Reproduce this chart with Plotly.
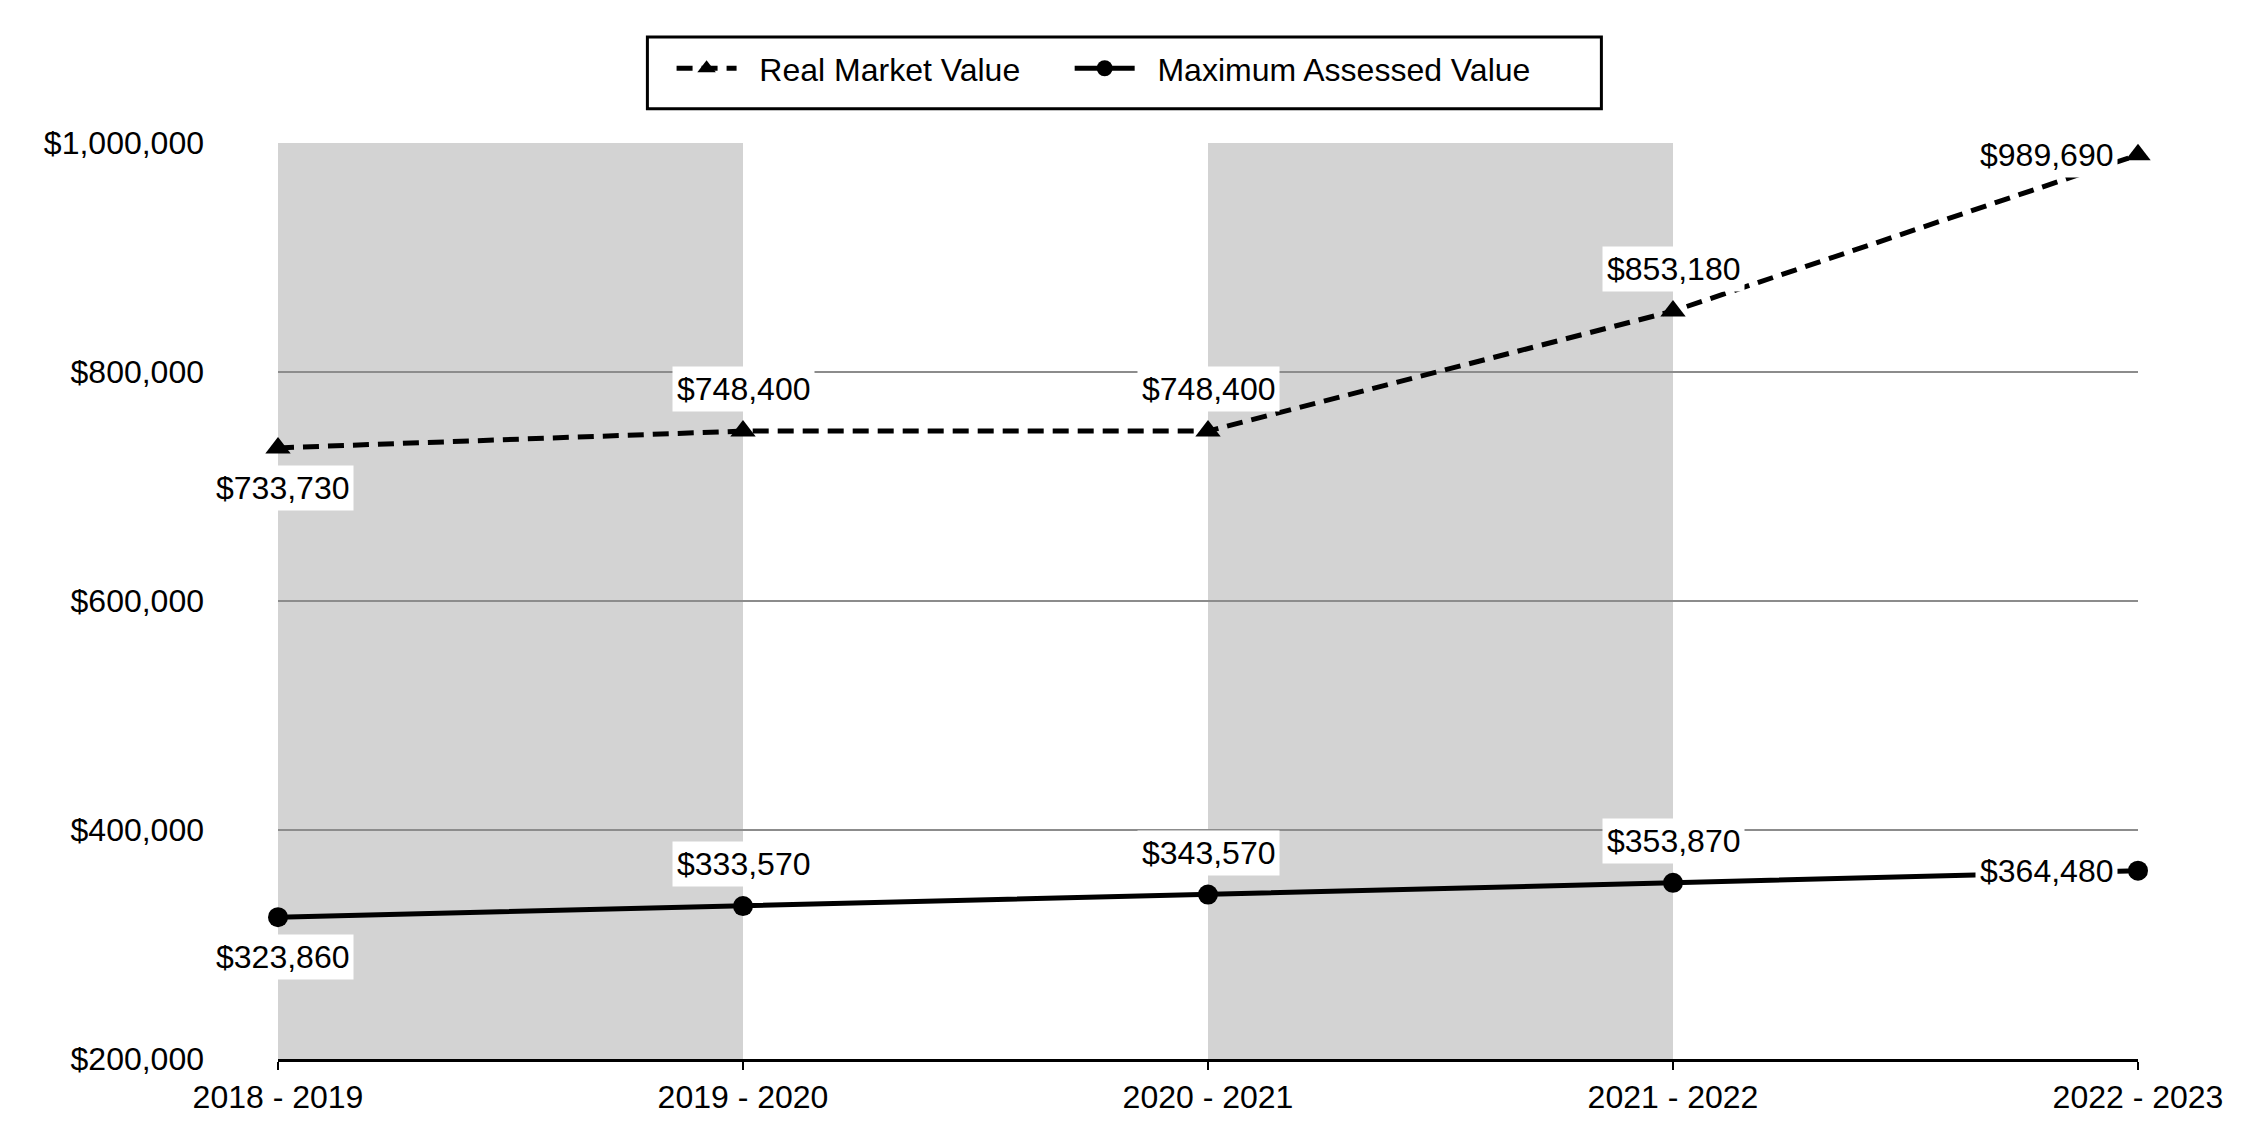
import plotly.graph_objects as go

categories = ["2018 - 2019", "2019 - 2020", "2020 - 2021", "2021 - 2022", "2022 - 2023"]
real_market = [733730, 748400, 748400, 853180, 989690]
max_assessed = [323860, 333570, 343570, 353870, 364480]
y_ticks = [200000, 400000, 600000, 800000, 1000000]
y_tick_labels = ["$200,000", "$400,000", "$600,000", "$800,000", "$1,000,000"]
shaded_pairs = [(0, 1), (2, 3)]

# label placement: (xanchor, xshift, yshift)
rmv_pos = [("center", 4, -40), ("center", 0, 42), ("center", 0, 42), ("center", 0, 42), ("right", -20, 0)]
mav_pos = [("center", 4, -40), ("center", 0, 42), ("center", 0, 42), ("center", 0, 42), ("right", -20, 0)]

FONT = "Liberation Sans, Arial, sans-serif"
FS = 32
NBSP = "\u00a0"

fig = go.Figure()
fig.add_trace(go.Scatter(
    x=categories, y=real_market, name=NBSP * 2 + "Real Market Value" + NBSP * 5, mode="lines+markers",
    line=dict(color="black", width=5, dash="16px,9px"),
    marker=dict(symbol="triangle-up", size=22, color="black"),
    cliponaxis=False,
))
fig.add_trace(go.Scatter(
    x=categories, y=max_assessed, name=NBSP * 2 + "Maximum Assessed Value", mode="lines+markers",
    line=dict(color="black", width=5),
    marker=dict(symbol="circle", size=20, color="black"),
    cliponaxis=False,
))

for a, b in shaded_pairs:
    fig.add_shape(type="rect", xref="x", yref="paper", x0=categories[a], x1=categories[b],
                  y0=0, y1=1, fillcolor="#d3d3d3", line_width=0, layer="below")

# legend frame
fig.add_shape(type="rect", xref="paper", yref="paper", x0=0.1986, x1=0.7115, y0=1.0373, y1=1.1158,
              fillcolor="white", line=dict(color="black", width=3), layer="above")

for series, pos in ((real_market, rmv_pos), (max_assessed, mav_pos)):
    for c, v, (xa, xs, ys) in zip(categories, series, pos):
        fig.add_annotation(x=c, y=v, text=f"${v:,}", showarrow=False, xanchor=xa, yanchor="middle",
                           xshift=xs, yshift=ys, bgcolor="white", borderpad=4,
                           font=dict(family=FONT, size=FS, color="black"))

fig.update_layout(
    width=2250, height=1140,
    margin=dict(l=270, r=120, t=135, b=89),
    paper_bgcolor="white", plot_bgcolor="white",
    font=dict(family=FONT, size=FS, color="black"),
    showlegend=True,
    legend=dict(orientation="h", x=0.2116, xanchor="left", y=1.0814, yanchor="middle",
                borderwidth=0, bgcolor="rgba(0,0,0,0)",
                font=dict(family=FONT, size=FS, color="black"),
                itemwidth=60),
    xaxis=dict(type="category", range=[0, len(categories) - 1], showgrid=False,
               showline=True, linecolor="black", linewidth=3,
               ticks="outside", ticklen=8, tickwidth=2, tickcolor="black",
               tickfont=dict(family=FONT, size=FS, color="black")),
    yaxis=dict(range=[y_ticks[0], y_ticks[-1]], tickvals=y_ticks, ticktext=y_tick_labels,
               showgrid=True, gridcolor="#8c8c8c", gridwidth=2, zeroline=False,
               showline=False, ticks="", ticklabelstandoff=73,
               tickfont=dict(family=FONT, size=FS, color="black")),
)

fig.write_html("out.html")
